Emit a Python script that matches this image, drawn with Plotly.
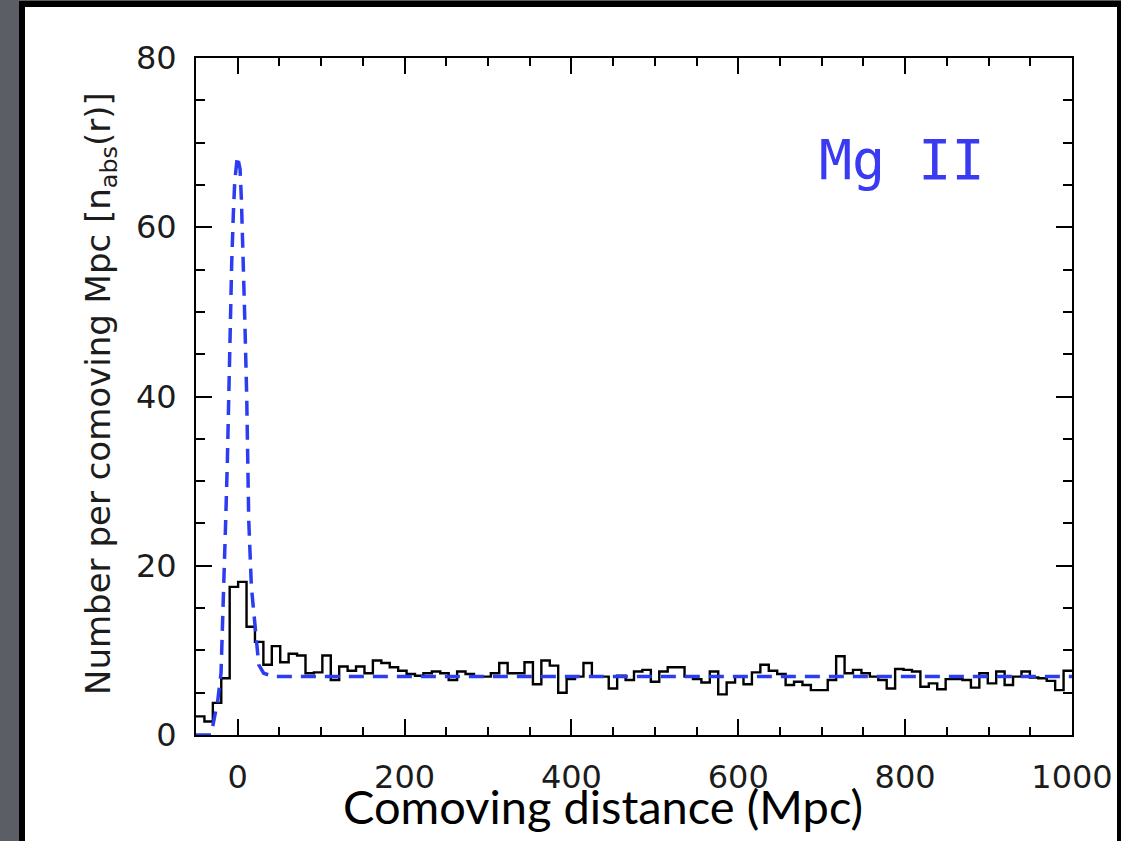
import plotly.graph_objects as go

# ---------------- data ----------------
# histogram of absorbers per comoving Mpc, 104 equal bins spanning -50 .. 1000 Mpc
hist_lo = -50
hist_hi = 1000
hist_counts = [
    2.2, 1.6, 3.8, 6.7, 17.5, 18.1, 12.8, 11.0, 8.3, 10.5,
    8.6, 9.6, 9.4, 7.3, 7.4, 9.4, 6.5, 8.1, 7.6, 8.1,
    7.3, 8.8, 8.5, 8.0, 7.6, 7.2, 7.0, 7.3, 7.5, 7.3,
    6.5, 7.5, 7.2, 6.9, 6.9, 7.3, 8.5, 7.3, 7.3, 8.6,
    6.0, 8.8, 8.2, 5.0, 6.6, 6.9, 8.5, 6.9, 6.9, 5.5,
    7.0, 6.5, 7.5, 7.7, 6.3, 7.5, 8.0, 8.0, 6.9, 6.6,
    6.2, 7.5, 4.8, 6.2, 6.9, 6.0, 7.4, 8.3, 7.6, 7.2,
    5.9, 6.3, 5.9, 5.3, 5.3, 6.5, 9.3, 7.3, 7.7, 7.3,
    6.9, 6.5, 5.5, 7.8, 7.7, 7.5, 5.7, 6.1, 5.4, 6.6,
    6.6, 6.5, 5.6, 7.3, 6.1, 7.5, 5.9, 6.9, 7.5, 6.8,
    6.7, 6.4, 5.3, 7.6,
]

# model curve (blue dashed)
model_r = [-50, -32, -28.4, -24, -20, -16.4, -14.4, -12.5, -10.8, -9.2, -7.2, -5.2, -3.5,
           -0.4, 2.8, 4.4, 5.6, 7.6, 8.4, 10.8, 12.0, 13.2, 16.4, 20.4, 25.2, 31.1, 43, 1000]
model_n = [0, 0, 1.8, 4.0, 7.3, 17.5, 25.4, 32, 40, 50, 55.8, 61.7, 65.5,
           68.4, 66.9, 63.3, 57.8, 51.9, 49.5, 40, 30, 25.4, 17.5, 13.3, 8.3, 7.3, 6.9, 6.9]

x_ticks = [0, 200, 400, 600, 800, 1000]
y_ticks = [0, 20, 40, 60, 80]

x_title = "Comoving distance (Mpc)"
y_title = "Number per comoving Mpc [n<sub>abs</sub>(r)]"
label_text = "Mg II"

# ---------------- figure ----------------
nb = len(hist_counts)
width = (hist_hi - hist_lo) / nb
edges = [hist_lo + i * width for i in range(nb + 1)]
step_y = hist_counts + [hist_counts[-1]]

W, H = 1121, 841
L, R, T, B = 196, 49, 58, 106
pw, ph = W - L - R, H - T - B


def px(xp):
    return (xp - L) / pw


def py(yp):
    return (H - B - yp) / ph


fig = go.Figure()
fig.add_trace(go.Scatter(
    x=edges, y=step_y, mode="lines", line=dict(shape="hv", color="black", width=2.4),
    hoverinfo="skip", showlegend=False))
fig.add_trace(go.Scatter(
    x=model_r, y=model_n, mode="lines",
    line=dict(color="#2b3cf2", width=3.5, dash="15px,9px"),
    hoverinfo="skip", showlegend=False))

tickfont = dict(family="DejaVu Sans", size=32, color="#1c1c1c")
axis_common = dict(
    showline=True, linecolor="black", linewidth=2, mirror="ticks",
    ticks="inside", tickcolor="black", tickwidth=1.6, ticklen=16,
    showgrid=False, zeroline=False, tickfont=tickfont, automargin=False,
)

fig.update_xaxes(range=[-50, 1000], tickvals=x_ticks, ticktext=[str(v) for v in x_ticks],
                 minor=dict(ticks="inside", dtick=50, tick0=0, ticklen=8, tickwidth=1.6,
                            tickcolor="black", showgrid=False),
                 ticklabelstandoff=13, **axis_common)
fig.update_yaxes(range=[0, 80], tickvals=y_ticks, ticktext=[str(v) for v in y_ticks],
                 minor=dict(ticks="inside", dtick=5, tick0=0, ticklen=9, tickwidth=1.6,
                            tickcolor="black", showgrid=False),
                 ticklabelstandoff=11, **axis_common)

# white slide panel with black frame
fig.add_shape(type="rect", xref="paper", yref="paper",
              x0=px(22), x1=px(1120), y0=py(880), y1=py(4),
              fillcolor="white", line=dict(color="black", width=6), layer="below")

fig.add_annotation(text=y_title, xref="paper", yref="paper", x=px(100), y=py(394),
                   xanchor="center", yanchor="middle", textangle=-90, showarrow=False,
                   font=dict(family="DejaVu Sans", size=34, color="#1c1c1c"))
fig.add_annotation(text=x_title, xref="paper", yref="paper", x=px(603), y=py(806),
                   xanchor="center", yanchor="middle", showarrow=False,
                   font=dict(family="Lato", size=47, color="black"))
fig.add_annotation(text=label_text, xref="paper", yref="paper", x=px(902), y=py(160),
                   xanchor="center", yanchor="middle", showarrow=False,
                   font=dict(family="DejaVu Sans Mono", size=55, color="#3a3af2"))

fig.update_layout(
    width=W, height=H, margin=dict(l=L, r=R, t=T, b=B, autoexpand=False),
    paper_bgcolor="#5b5e64", plot_bgcolor="white", showlegend=False,
)

fig.write_html("out.html", config={"displayModeBar": False})
